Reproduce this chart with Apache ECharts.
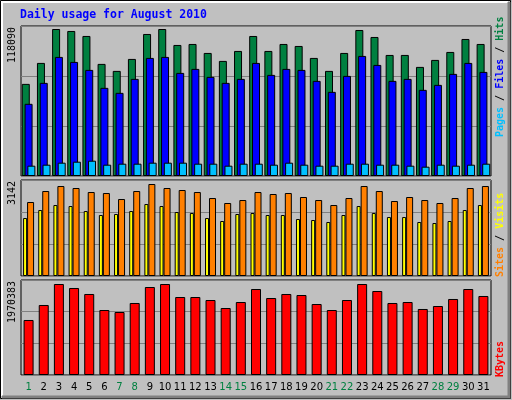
<!DOCTYPE html>
<html><head><meta charset="utf-8">
<script src="https://cdn.jsdelivr.net/npm/echarts@6/dist/echarts.min.js"></script>
<style>html,body{margin:0;padding:0;background:#c0c0c0}#c{width:512px;height:400px}</style>
</head><body><div id="c"></div>
<script>
const days = ['1','2','3','4','5','6','7','8','9','10','11','12','13','14','15','16','17','18','19','20','21','22','23','24','25','26','27','28','29','30','31'];
const weekendDays = ['1','7','8','14','15','21','22','28','29'];
const hits = [74000,90850,118090,116500,112500,90050,84430,94050,114090,118090,105270,106070,98860,92450,100460,112480,100460,106070,104470,94850,84430,98860,117290,111680,97250,97250,87640,93250,99660,110080,106070];
const files = [57980,74820,95660,91650,85240,70810,66800,78020,94860,95660,82830,86040,79630,74820,78020,90850,81230,86040,85240,76420,67600,80430,96460,89240,76420,78020,69200,73210,82030,90850,83630];
const pages = [8280,9080,10690,11490,12290,9080,9890,9890,10690,10690,10690,9890,9890,8280,9890,9890,9080,10690,9080,8280,8280,9890,9890,9080,9080,8280,7480,9080,8280,9080,9890];
const visits = [2527,2902,3073,3005,2868,2834,2629,2902,3142,3005,2937,2868,2663,2493,2595,2868,2800,2834,2698,2595,2424,2663,3073,2902,2561,2698,2595,2493,2663,3005,3073];
const sites = [1980,2253,2424,2390,2219,2083,2117,2219,2458,2390,2185,2151,1980,1878,2117,2151,2083,2083,1946,1912,1844,2083,2390,2151,2014,2014,1844,1809,1878,2253,2424];
const kbytes = [1190900,1515700,1970383,1883800,1753900,1407400,1364100,1559000,1905400,1970383,1688900,1688900,1623900,1450700,1580600,1862100,1667200,1753900,1732200,1537300,1407400,1623900,1970383,1818800,1559000,1580600,1429100,1494000,1645600,1862100,1710600];
const maxLabels = ['118090','3142','1970383'];

const chart = echarts.init(document.getElementById('c'));
const hMax = Math.max(...hits)*150/147, vMax = Math.max(...visits)*96/92, kMax = Math.max(...kbytes)*95/91;
const grids = [{left:21,right:21,top:26,height:150},{left:21,right:21,top:180,height:96},{left:21,right:21,top:280,height:95}]
  .map(g=>Object.assign(g,{show:true,backgroundColor:'#c0c0c0',borderColor:'#000',borderWidth:1}));
const xA = i => ({type:'category',gridIndex:i,data:days,axisLine:{show:false},axisTick:{show:false},
  axisLabel:{show:i===2,interval:0,hideOverlap:false,margin:7,fontSize:10,fontFamily:'DejaVu Sans',color:v=>weekendDays.includes(v)?'#008040':'#000'}});
const yA = (i,m) => ({type:'value',gridIndex:i,min:0,max:m,interval:m/3,axisLabel:{show:false},axisLine:{show:false},axisTick:{show:false},
  splitLine:{lineStyle:{color:'#808080',width:1}}});
const bs = (name,data,color,xi,w,extra) => Object.assign({type:'bar',name,data,xAxisIndex:xi,yAxisIndex:xi,barWidth:w,
  itemStyle:{color,borderColor:'#000',borderWidth:1},animation:false,silent:true},extra||{});
const rot = (text,x,y,style) => ({type:'text',x,y,rotation:Math.PI/2,style:Object.assign({text,align:'left',verticalAlign:'middle'},style)});
const F = 'bold 10px "DejaVu Sans Mono"';
chart.setOption({
  backgroundColor:'#c0c0c0',
  grid:grids,
  xAxis:[xA(0),xA(1),xA(2)],
  yAxis:[yA(0,hMax),yA(1,vMax),yA(2,kMax)],
  series:[
    bs('Hits',hits,'#008040',0,8,{barGap:'-65%'}),
    bs('Files',files,'#0000ff',0,8,{barGap:'-65%'}),
    bs('Pages',pages,'#00c0ff',0,8,{barGap:'-65%'}),
    bs('Sites',sites,'#ffff00',1,4,{barGap:'0%'}),
    bs('Visits',visits,'#ff8000',1,7,{barGap:'0%'}),
    bs('KBytes',kbytes,'#ff0000',2,10)
  ],
  graphic:[
    {type:'rect',shape:{x:0.5,y:0.5,width:510,height:398},style:{fill:'none',stroke:'#000',lineWidth:1}},
    {type:'polyline',shape:{points:[[2,396],[2,2],[508,2]]},style:{stroke:'#fff',lineWidth:2,fill:'none'}},
    {type:'polyline',shape:{points:[[2,397],[509,397],[509,2]]},style:{stroke:'#808080',lineWidth:3,fill:'none'}},
    {type:'text',x:20,y:15,style:{text:'Daily usage for August 2010',fill:'#0000ff',font:'bold 11.5px "DejaVu Sans Mono"',verticalAlign:'middle'}},
    rot(maxLabels[0],12,63,{fill:'#000',font:'10px "DejaVu Sans Mono"'}),
    rot(maxLabels[1],12,205,{fill:'#000',font:'10px "DejaVu Sans Mono"'}),
    rot(maxLabels[2],12,323,{fill:'#000',font:'10px "DejaVu Sans Mono"'}),
    rot('{p|Pages} {s|/} {f|Files} {s|/} {h|Hits}',500,137,{font:F,
      rich:{p:{fill:'#00c0ff',font:F},f:{fill:'#0000ff',font:F},h:{fill:'#008040',font:F},s:{fill:'#000',font:F}}}),
    rot('{a|Sites} {s|/} {b|Visits}',500,277,{font:F,
      rich:{a:{fill:'#ff8000',font:F},b:{fill:'#ffff00',font:F},s:{fill:'#000',font:F}}}),
    rot('KBytes',500,377,{fill:'#ff0000',font:F})
  ]
});
</script></body></html>
